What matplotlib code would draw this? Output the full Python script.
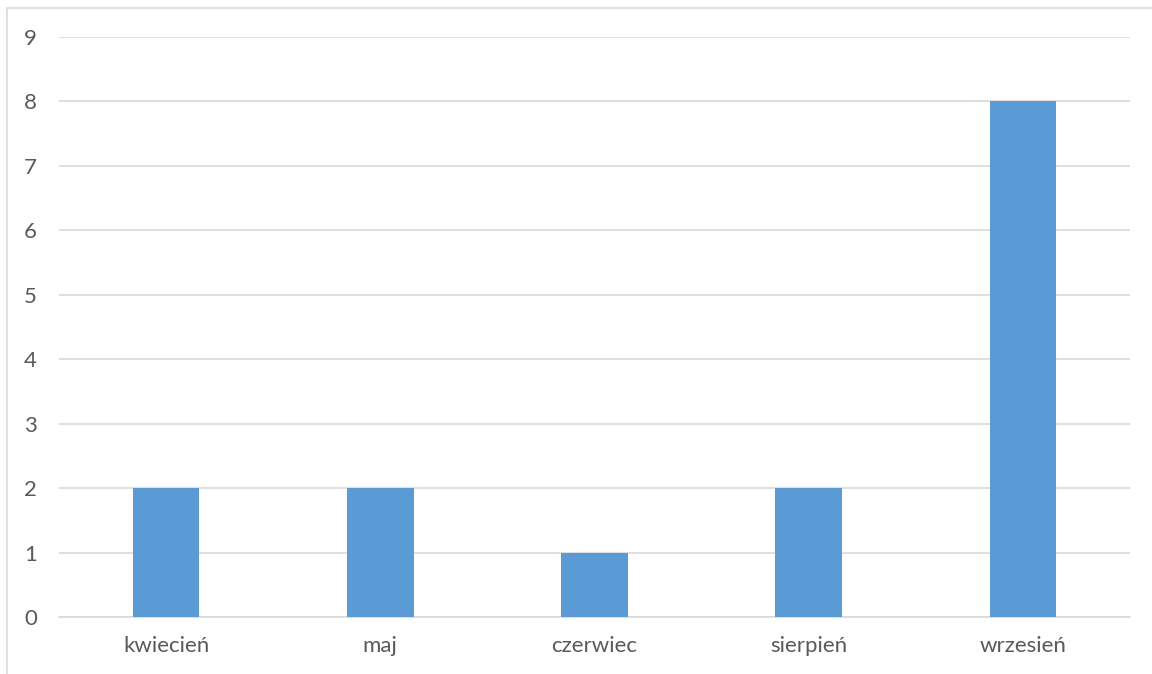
import matplotlib.pyplot as plt
from matplotlib.patches import Rectangle

months = ["kwiecień", "maj", "czerwiec", "sierpień", "wrzesień"]
counts = [2, 2, 1, 2, 8]
yticks = list(range(0, 10))

W, H = 1152, 674
fig = plt.figure(figsize=(W / 100, H / 100), dpi=100)
plt.rcParams["font.family"] = ["Lato", "DejaVu Sans"]

# outer chart frame (left and top edges only show)
fig.patches.append(Rectangle((6.5 / W, -0.1), 1.2, (H - 7.5) / H + 0.1,
                             transform=fig.transFigure, fill=False,
                             edgecolor="#d9d9d9", linewidth=1.2, zorder=0))

ax = fig.add_axes([59 / W, (H - 617) / H, (1130 - 59) / W, (617 - 37) / H])
x = range(len(months))
ax.bar(x, counts, width=0.31, color="#5b9bd5", zorder=3)

ax.set_xlim(-0.5, len(months) - 0.5)
ax.set_ylim(0, 9)
ax.set_yticks(yticks)
ax.set_xticks(list(x))
ax.set_xticklabels(months)
ax.grid(axis="y", color="#d9d9d9", linewidth=1.2, zorder=0)
for s in ["top", "right", "left"]:
    ax.spines[s].set_visible(False)
ax.spines["bottom"].set_color("#d9d9d9")
ax.spines["bottom"].set_linewidth(1.2)
ax.tick_params(axis="both", length=0, labelsize=16, colors="#595959")
ax.tick_params(axis="y", pad=16)
ax.tick_params(axis="x", pad=14)

fig.savefig("out.png", dpi=100)
